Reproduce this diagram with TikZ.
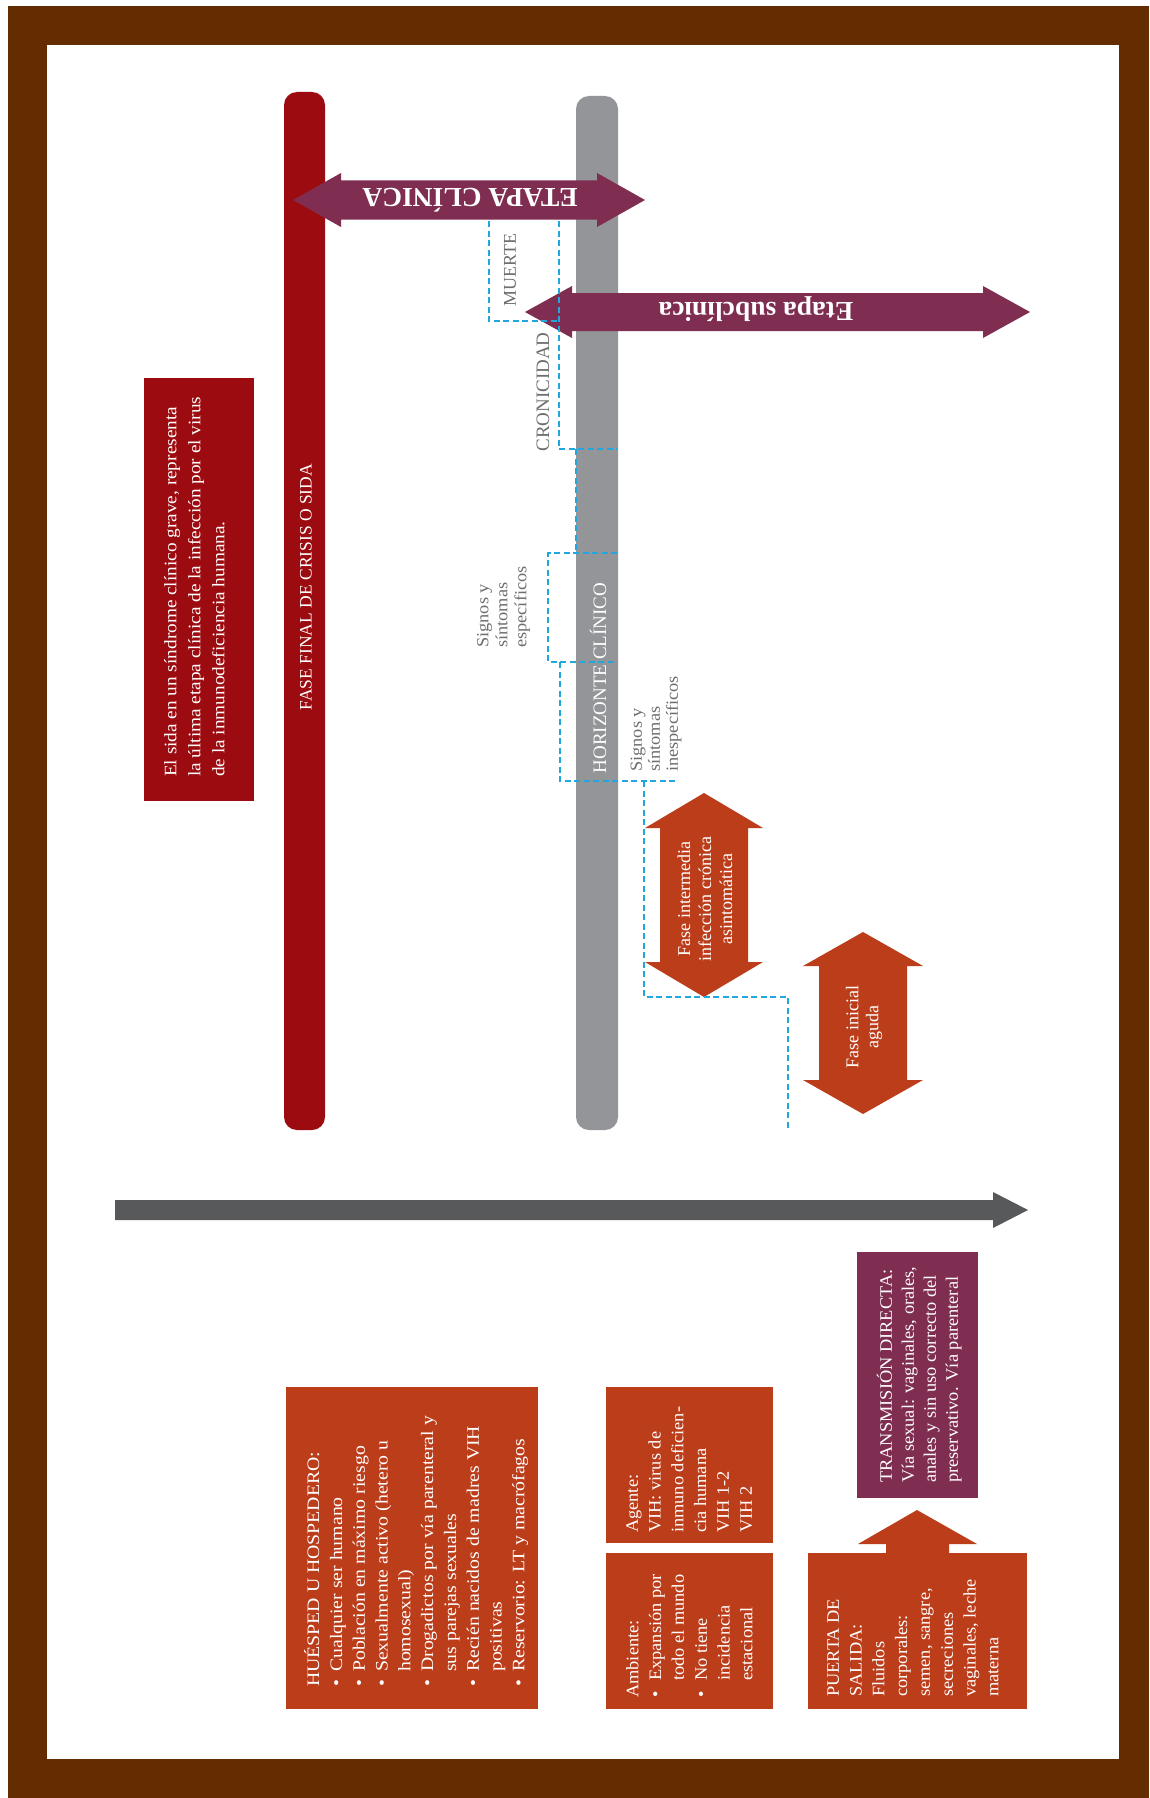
\documentclass[tikz,border=0pt]{standalone}
\usepackage{fontspec}
\setmainfont{Liberation Serif}
% slightly widened cuts of the text face for the running text blocks
\newfontfamily\widea{Liberation Serif}[FakeStretch=1.10]
\newfontfamily\wideb{Liberation Serif}[FakeStretch=1.13]
\newfontfamily\widec{Liberation Serif}[FakeStretch=1.05]
\newfontfamily\wided{Liberation Serif}[FakeStretch=1.08]

\definecolor{framebrown}{HTML}{632D00}
\definecolor{sidared}{HTML}{9C0B10}
\definecolor{bargray}{HTML}{939598}
\definecolor{plum}{HTML}{7F2D50}
\definecolor{rust}{HTML}{BC3D1A}
\definecolor{axisgray}{HTML}{58595B}
\definecolor{labelgray}{HTML}{6D6E71}
\definecolor{dashblue}{HTML}{22A6DE}

% bullet and continuation indent for the list boxes
\newcommand{\bitem}[1][15pt]{\makebox[#1][l]{•}}
\newcommand{\bcont}[1][15pt]{\hspace*{#1}}

% horizontal double arrow: colour, left tip, right tip, centre y, head length, head half-width, shaft half-width
\newcommand{\hdbl}[7]{%
  \fill[#1] (#2,#4) -- (#2+#5,#4-#6) -- (#2+#5,#4-#7) -- (#3-#5,#4-#7) -- (#3-#5,#4-#6)
    -- (#3,#4) -- (#3-#5,#4+#6) -- (#3-#5,#4+#7) -- (#2+#5,#4+#7) -- (#2+#5,#4+#6) -- cycle;}
% vertical double arrow: colour, centre x, top tip, bottom tip, head length, head half-width, shaft half-width
\newcommand{\vdbl}[7]{%
  \fill[#1] (#2,#3) -- (#2+#6,#3+#5) -- (#2+#7,#3+#5) -- (#2+#7,#4-#5) -- (#2+#6,#4-#5)
    -- (#2,#4) -- (#2-#6,#4-#5) -- (#2-#7,#4-#5) -- (#2-#7,#3+#5) -- (#2-#6,#3+#5) -- cycle;}

\tikzset{
  wtext/.style={rotate=90, anchor=north west, align=left, inner sep=0pt, text=white,
                execute at begin node=\strut},
  gtext/.style={wtext, text=labelgray},
  ctext/.style={rotate=90, anchor=center, align=center, inner sep=0pt, text=white},
  dashline/.style={draw=dashblue, line width=1.6pt, dash pattern=on 6pt off 3.5pt},
  bodyfont/.style={font=\widec\fontsize{17.5}{22.8}\selectfont},
}

\begin{document}
\begin{tikzpicture}[x=1pt,y=-1pt]
\useasboundingbox (0,0) rectangle (1149,1798);

% frame
\fill[white] (0,0) rectangle (1149,1798);
\fill[framebrown] (8,6) rectangle (1149,1798);
\fill[white] (47,45) rectangle (1119,1759);

% vertical bars
\fill[sidared, rounded corners=13pt] (284,92) rectangle (325,1130);
\fill[bargray, rounded corners=13pt] (576,96) rectangle (618,1130);

% definition box
\fill[sidared] (144,378) rectangle (254,801);

% stage arrows
\hdbl{plum}{293}{645}{200}{48}{27}{19.5}
\hdbl{plum}{525}{1030}{312}{47}{26}{19}
\vdbl{rust}{704}{793}{997}{35}{59}{44}
\vdbl{rust}{863}{932}{1114}{34}{60}{44}

% time axis
\fill[axisgray] (115,1200) -- (993,1200) -- (993,1192) -- (1028,1210) -- (993,1228)
  -- (993,1220) -- (115,1220) -- cycle;

% bottom boxes
\fill[rust] (286,1387) rectangle (538,1709);
\fill[rust] (606,1387) rectangle (773,1543);
\fill[rust] (606,1553) rectangle (773,1709);
\fill[rust] (808,1553) rectangle (1027,1709);
\fill[plum] (857,1252) rectangle (978,1498);
\fill[rust] (917,1510) -- (977,1544) -- (949,1544) -- (949,1556) -- (886,1556)
  -- (886,1544) -- (858,1544) -- cycle;

% stepped dashed boundaries
\draw[dashline] (489,221) -- (489,321) -- (559,321);
\draw[dashline] (559,221) -- (559,449) -- (617,449);
\draw[dashline] (576,449) -- (576,553);
\draw[dashline] (617,553) -- (548,553) -- (548,662) -- (617,662);
\draw[dashline] (560,662) -- (560,781) -- (678,781);
\draw[dashline] (644,781) -- (644,997) -- (788,997) -- (788,1130);

% texts
\node[wtext, font=\widea\fontsize{17.5}{24}\selectfont] (def) at (164,777)
  {El sida en un síndrome clínico grave, representa\\
   la última etapa clínica de la infección por el virus\\
   de la inmunodeficiencia humana.};

\node[ctext, font=\fontsize{17.5}{20}\selectfont] (fasefinal) at (306,587) {FASE FINAL DE CRISIS O SIDA};
\node[ctext, font=\fontsize{19}{22}\selectfont] (horizonte) at (598,678) {HORIZONTE CLÍNICO};

\node[rotate=180, anchor=base, inner sep=0pt, text=white, font=\fontsize{27.5}{30}\selectfont\bfseries]
  (clinica) at (470,189) {ETAPA CLÍNICA};
\node[rotate=180, anchor=base, inner sep=0pt, text=white, font=\fontsize{27.5}{30}\selectfont\bfseries]
  (subclinica) at (756,302) {Etapa subclínica};

\node[ctext, text=labelgray, font=\fontsize{18}{20}\selectfont] (muerte) at (510,270) {MUERTE};
\node[ctext, text=labelgray, font=\fontsize{19}{20}\selectfont] (cronicidad) at (543,392) {CRONICIDAD};

\node[gtext, font=\wided\fontsize{17}{19}\selectfont] (especificos) at (477,648)
  {Signos y\\ síntomas\\ específicos};
\node[gtext, font=\wided\fontsize{17}{18}\selectfont] (inespecificos) at (630.4,772)
  {Signos y\\ síntomas\\ inespecíficos};

\node[ctext, font=\fontsize{18}{21}\selectfont] (intermedia) at (705,899)
  {Fase intermedia\\ infección crónica\\ asintomática};
\node[ctext, font=\fontsize{18}{20}\selectfont] (inicial) at (864,1027)
  {Fase inicial\\ aguda};

\node[wtext, font=\wideb\fontsize{17.5}{22.8}\selectfont] (huesped) at (304,1687)
  {HUÉSPED U HOSPEDERO:\\
   \bitem Cualquier ser humano\\
   \bitem Población en máximo riesgo\\
   \bitem Sexualmente activo (hetero u\\
   \bcont homosexual)\\
   \bitem Drogadictos por vía parenteral y\\
   \bcont sus parejas sexuales\\
   \bitem Recién nacidos de madres VIH\\
   \bcont positivas\\
   \bitem Reservorio: LT y macrófagos};

\node[wtext, bodyfont] (agente) at (626,1533)
  {Agente:\\ VIH: virus de\\ inmuno deficien-\\ cia humana\\ VIH 1-2\\ VIH 2};

\node[wtext, bodyfont] (ambiente) at (626,1698)
  {Ambiente:\\
   \bitem[17pt]Expansión por\\
   \bcont[17pt]todo el mundo\\
   \bitem[17pt]No tiene\\
   \bcont[17pt]incidencia\\
   \bcont[17pt]estacional};

\node[wtext, bodyfont] (puerta) at (827,1697)
  {PUERTA DE\\ SALIDA:\\ Fluidos\\ corporales:\\ semen, sangre,\\ secreciones\\ vaginales, leche\\ materna};

\node[wtext, font=\widec\fontsize{17.5}{22}\selectfont] (transmision) at (876.6,1483)
  {TRANSMISIÓN DIRECTA:\\
   Vía sexual: vaginales, orales,\\
   anales y sin uso correcto del\\
   preservativo. Vía parenteral};
\end{tikzpicture}
\end{document}
